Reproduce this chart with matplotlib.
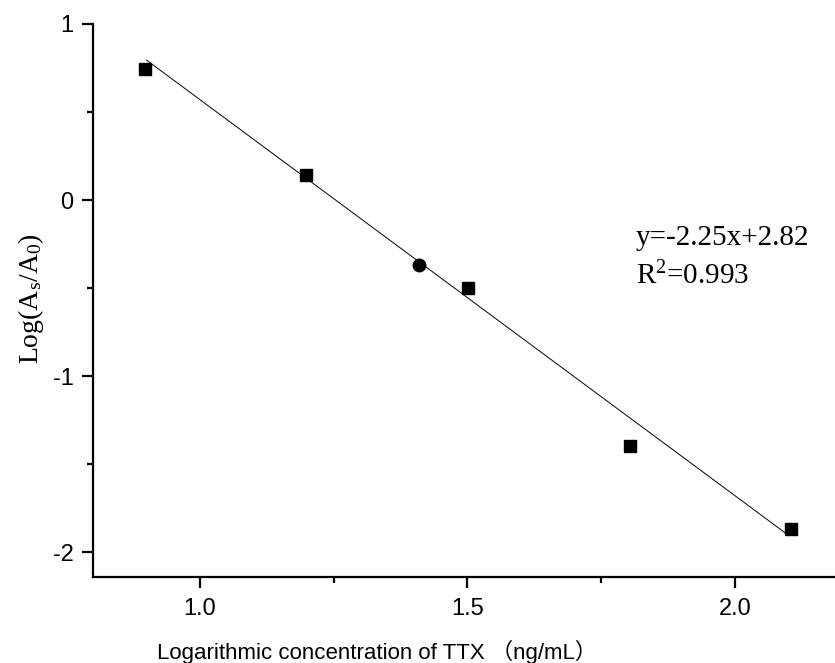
import matplotlib
matplotlib.use('Agg')
import matplotlib.pyplot as plt
import numpy as np
from matplotlib.ticker import MultipleLocator, FormatStrFormatter

# calibration points (square markers) and the sample point (circle)
std_x = [0.897, 1.198, 1.501, 1.804, 2.105]
std_y = [0.744, 0.142, -0.50, -1.398, -1.869]
sample_x = [1.409]
sample_y = [-0.369]

slope = -2.25
intercept = 2.82
r2 = 0.993
fit_range = [0.9, 2.1]

plt.rcParams['font.family'] = ['Liberation Sans', 'Noto Sans CJK SC']
plt.rcParams['xtick.labelsize'] = 17
plt.rcParams['ytick.labelsize'] = 17
plt.rcParams['mathtext.fontset'] = 'custom'
plt.rcParams['mathtext.rm'] = 'Liberation Serif'
plt.rcParams['mathtext.it'] = 'Liberation Serif:italic'

fig = plt.figure(figsize=(8.35, 6.63), dpi=100)
ax = fig.add_axes([93 / 835, 86 / 663, 742 / 835, 553 / 663])

fx = np.array(fit_range)
ax.plot(fx, slope * fx + intercept, color='black', lw=0.7)
ax.plot(std_x, std_y, 's', color='black', ms=8.5)
ax.plot(sample_x, sample_y, 'o', color='black', ms=9)

ax.set_xlim(0.8, 2.187)
ax.set_ylim(-2.142, 1.0)
ax.xaxis.set_major_locator(MultipleLocator(0.5))
ax.xaxis.set_minor_locator(MultipleLocator(0.25))
ax.yaxis.set_major_locator(MultipleLocator(1))
ax.yaxis.set_minor_locator(MultipleLocator(0.5))
ax.xaxis.set_major_formatter(FormatStrFormatter('%.1f'))
ax.yaxis.set_major_formatter(FormatStrFormatter('%g'))

for s in ['top', 'right']:
    ax.spines[s].set_visible(False)
for s in ['left', 'bottom']:
    ax.spines[s].set_linewidth(1.6)

ax.tick_params(which='major', direction='out', length=8, width=1.6)
ax.tick_params(axis='x', which='major', pad=7)
ax.tick_params(axis='y', which='major', pad=6)
ax.tick_params(which='minor', direction='out', length=4, width=1.6)

ax.text(1.815, -0.216, 'y=-2.25x+2.82', family='Liberation Serif',
        fontsize=21, va='center', ha='left')
ax.text(1.815, -0.432, r'R$^{2}$=' + f'{r2}', family='Liberation Serif',
        fontsize=21, va='center', ha='left')

fig.text(377 / 835, 11 / 663, 'Logarithmic concentration of TTX （ng/mL）',
         fontsize=16, ha='center', va='center')
fig.text(31 / 835, 1 - 299 / 663, r'Log(A$_\mathrm{s}$/A$_\mathrm{0}$)',
         family='Liberation Serif', fontsize=20, rotation=90,
         ha='center', va='center')

fig.savefig('out.png', dpi=100)
